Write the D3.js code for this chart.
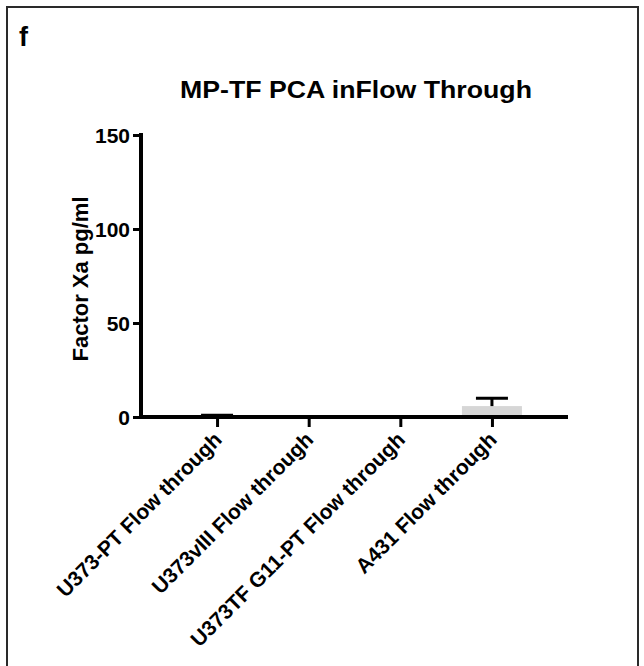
<!DOCTYPE html>
<html>
<head>
<meta charset="utf-8">
<script src="https://cdn.jsdelivr.net/npm/d3@7"></script>
<style>
  body { margin: 0; background: #fff; }
  text { font-family: "Liberation Sans", Arial, sans-serif; font-weight: bold; fill: #000; }
</style>
</head>
<body>
<svg id="chart" width="644" height="666"></svg>
<script>
'use strict'

/****** DATA ******/
const categories = ['U373-PT Flow through', 'U373vIII Flow through', 'U373TF G11-PT Flow through', 'A431 Flow through']
const means = [0.3, 0.1, 0, 5.8]
const errors = [0.6, 0.2, 0, 4.2]
const yTicks = [0, 50, 100, 150]

const title = 'MP-TF PCA inFlow Through'
const yLabel = 'Factor Xa pg/ml'
const panelLetter = 'f'

/****** SETUP ******/
const svg = d3.select('#chart')

// panel frame (runs off the bottom of the image)
svg.append('rect')
  .attr('x', 7).attr('y', 7)
  .attr('width', 631).attr('height', 720)
  .attr('fill', 'none')
  .attr('stroke', '#2a2a2a')
  .attr('stroke-width', 2)

svg.append('text')
  .attr('x', 19).attr('y', 46)
  .style('font-size', '27px')
  .text(panelLetter)

svg.append('text')
  .attr('x', 356).attr('y', 98)
  .attr('text-anchor', 'middle')
  .attr('textLength', 352)
  .attr('lengthAdjust', 'spacingAndGlyphs')
  .style('font-size', '24px')
  .text(title)

const x = d3.scalePoint()
  .domain(categories)
  .range([141, 568])
  .padding(0.83)

const y = d3.scaleLinear()
  .domain([0, 150])
  .range([417, 135])

const barWidth = 60
const capWidth = 32

// bars
svg.append('g').selectAll('rect')
  .data(categories)
  .join('rect')
    .attr('x', d => x(d) - barWidth / 2)
    .attr('y', (d, i) => y(means[i]))
    .attr('width', barWidth)
    .attr('height', (d, i) => y(0) - y(means[i]))
    .attr('fill', '#d6d6d6')

// error bars (upper only)
const err = svg.append('g')
  .attr('stroke', '#000')
  .attr('stroke-width', 3)
err.selectAll('.stem')
  .data(categories)
  .join('line')
    .attr('class', 'stem')
    .attr('x1', d => x(d)).attr('x2', d => x(d))
    .attr('y1', (d, i) => y(means[i]))
    .attr('y2', (d, i) => y(means[i] + errors[i]))
err.selectAll('.cap')
  .data(categories.filter((d, i) => errors[i] > 0))
  .join('line')
    .attr('class', 'cap')
    .attr('x1', d => x(d) - capWidth / 2)
    .attr('x2', d => x(d) + capWidth / 2)
    .attr('y1', d => y(means[categories.indexOf(d)] + errors[categories.indexOf(d)]))
    .attr('y2', d => y(means[categories.indexOf(d)] + errors[categories.indexOf(d)]))

// y axis
const yAxis = svg.append('g')
  .attr('transform', 'translate(141,0)')
  .call(d3.axisLeft(y).tickValues(yTicks).tickSize(8).tickPadding(3))
yAxis.select('.domain').attr('stroke-width', 4).attr('d', `M0,${y(150) - 2}V${y(0) + 2}`)
yAxis.selectAll('.tick line').attr('stroke-width', 3)
yAxis.selectAll('.tick text')
  .style('font-size', '21px')
  .attr('dy', '0.36em')

// x axis
const xAxis = svg.append('g')
  .attr('transform', `translate(0,${y(0)})`)
  .call(d3.axisBottom(x).tickSize(10).tickFormat(''))
xAxis.select('.domain').attr('stroke-width', 4).attr('d', `M141,0H568`)
xAxis.selectAll('.tick line').attr('stroke-width', 3)

svg.append('g').selectAll('text')
  .data(categories)
  .join('text')
    .attr('text-anchor', 'end')
    .attr('transform', d => `translate(${x(d) + 6},${y(0) + 24}) rotate(-45)`)
    .style('font-size', '21px')
    .text(d => d)

svg.append('text')
  .attr('transform', `translate(88,${(y(0) + y(150)) / 2 + 3}) rotate(-90)`)
  .attr('text-anchor', 'middle')
  .style('font-size', '22px')
  .text(yLabel)
</script>
</body>
</html>
